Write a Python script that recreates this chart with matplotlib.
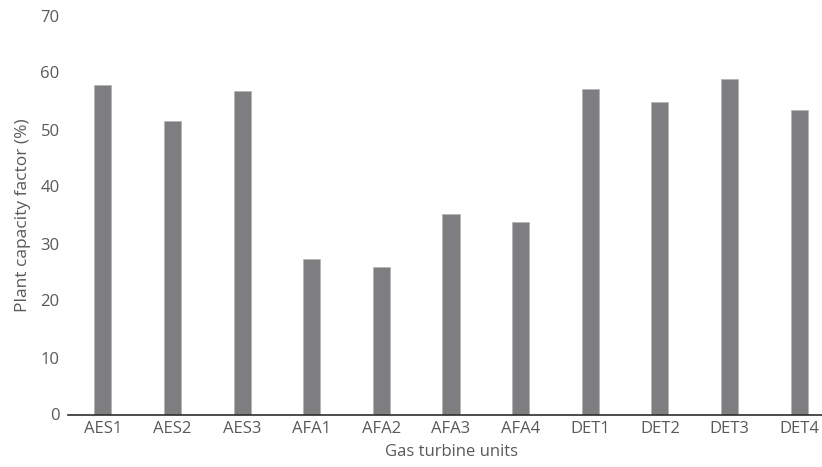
import matplotlib
matplotlib.use("Agg")
import matplotlib.pyplot as plt

units = ["AES1", "AES2", "AES3", "AFA1", "AFA2", "AFA3", "AFA4", "DET1", "DET2", "DET3", "DET4"]
capacity_factor = [57.8, 51.5, 56.8, 27.2, 25.8, 35.2, 33.7, 57.1, 54.8, 58.8, 53.4]
yticks = [0, 10, 20, 30, 40, 50, 60, 70]

plt.rcParams['font.family'] = ['Open Sans', 'DejaVu Sans']
text_color = '#595959'

fig = plt.figure(figsize=(8.22, 4.67), dpi=100)
ax = fig.add_axes([68/822, 52.5/467, (834-68)/822, 399/467])
x = range(len(units))
ax.bar(x, capacity_factor, width=0.245, color='#7e7e81', edgecolor='#b5b5b7', linewidth=0.6)
ax.set_xlim(-0.5, len(units) - 0.5)
ax.set_ylim(0, 70)
ax.set_yticks(yticks)
ax.set_xticks(list(x))
ax.set_xticklabels(units)
for s in ['top', 'right', 'left']:
    ax.spines[s].set_visible(False)
ax.spines['bottom'].set_color('#2e2e2e')
ax.spines['bottom'].set_linewidth(1.2)
ax.tick_params(axis='both', length=0, labelsize=12, colors=text_color)
ax.tick_params(axis='y', pad=6)
ax.tick_params(axis='x', pad=5)
ax.set_xlabel('Gas turbine units', fontsize=12, color=text_color, labelpad=5)
ax.set_ylabel('Plant capacity factor (%)', fontsize=12.5, color=text_color, labelpad=7)
fig.savefig('out.png', dpi=100)
